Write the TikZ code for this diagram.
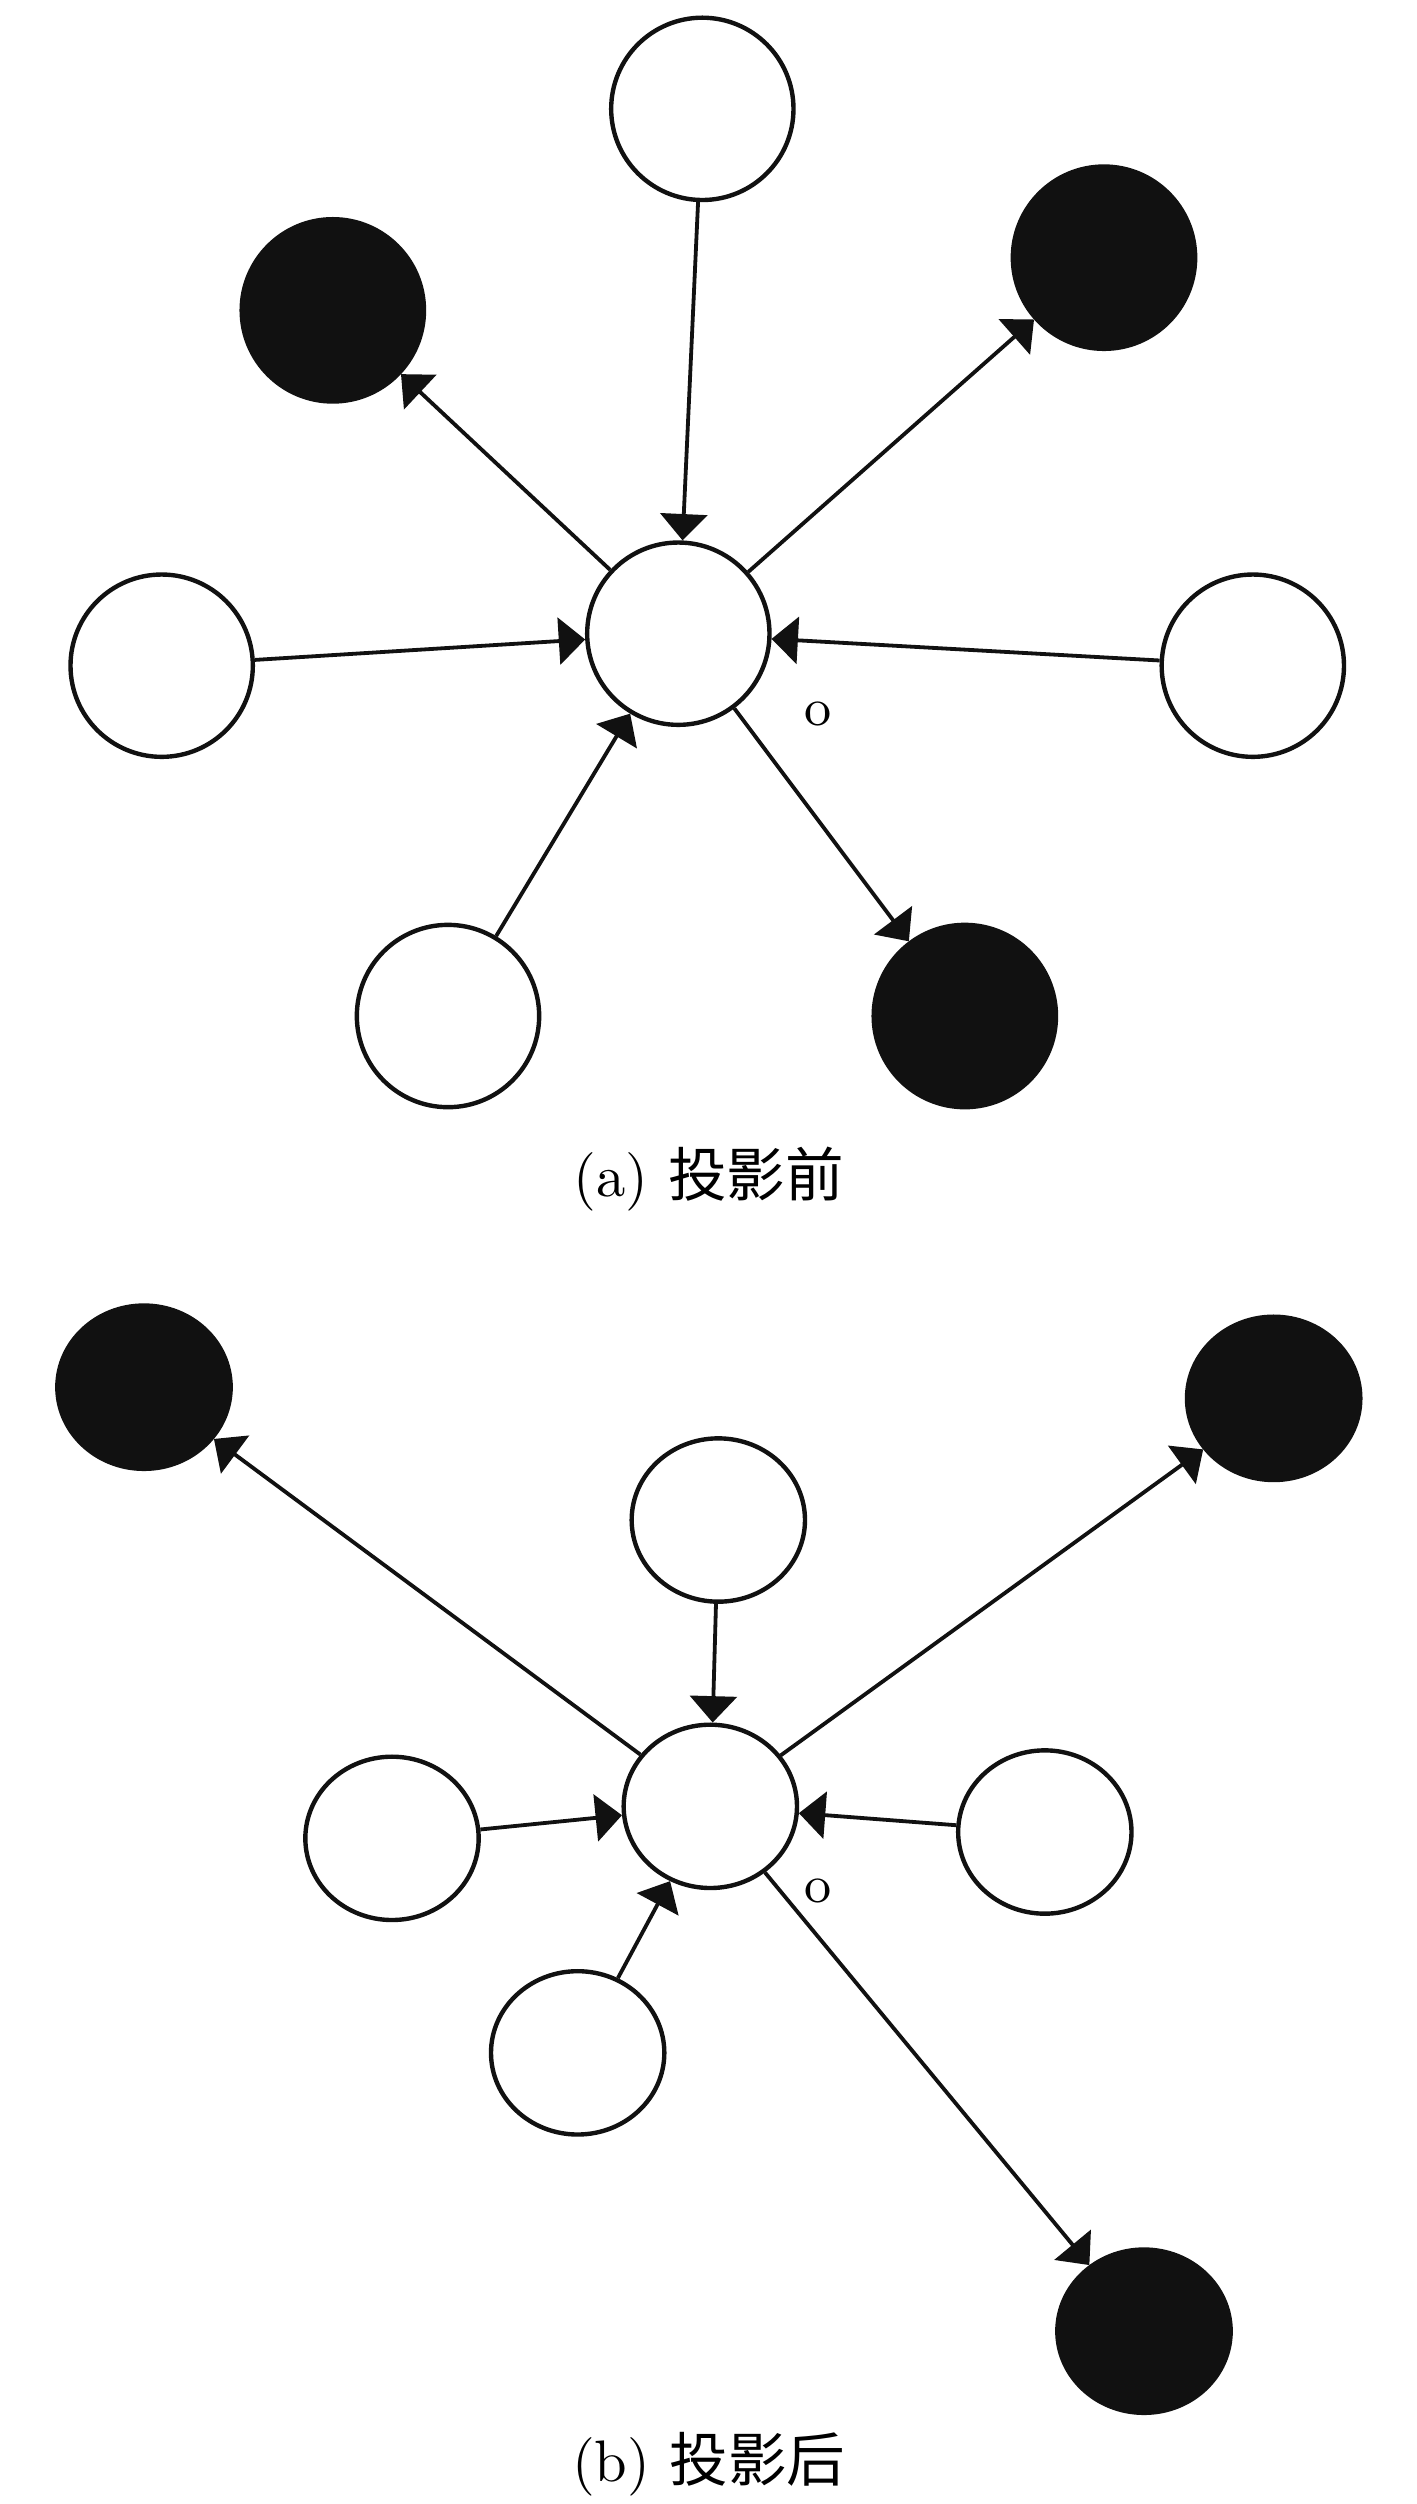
\documentclass[tikz,border=0pt]{standalone}
\usepackage{fontspec}
\newfontfamily\cjk{Noto Sans CJK SC}
\usetikzlibrary{arrows.meta,shapes.geometric}

\definecolor{ink}{HTML}{111111}

\tikzset{
  whitenode/.style={circle, draw=ink, line width=0.75pt, minimum size=1.094cm, inner sep=0pt},
  blacknode/.style={whitenode, fill=ink},
  whiteoval/.style={ellipse, draw=ink, line width=0.75pt, minimum width=1.04cm, minimum height=0.98cm, inner sep=0pt},
  blackoval/.style={whiteoval, fill=ink},
  link/.style={draw=ink, line width=0.65pt, -{Triangle[width=8pt,length=4.5pt]}}
}

\begin{document}
\begin{tikzpicture}
    \useasboundingbox (0, 0) rectangle (8.502, -15.024);

    % before projection
    \begin{scope}
      \node [whitenode] (a0) at (4.070, -3.802) {};
      \node [whitenode] (a1) at (4.214, -0.653) {};
      \node [blacknode] (a2) at (1.997, -1.862) {};
      \node [blacknode] (a3) at (6.624, -1.546) {};
      \node [whitenode] (a4) at (0.970, -3.994) {};
      \node [whitenode] (a5) at (7.517, -3.994) {};
      \node [whitenode] (a6) at (2.688, -6.096) {};
      \node [blacknode] (a7) at (5.789, -6.096) {};
      \node [font=\small] (ao) at (4.906, -4.282) {o};
      \draw [link] (a1) -- (a0);
      \draw [link] (a4) -- (a0);
      \draw [link] (a5) -- (a0);
      \draw [link] (a6) -- (a0);
      \draw [link] (a0) -- (a2);
      \draw [link] (a0) -- (a3);
      \draw [link] (a0) -- (a7);
      \node (acap) at (4.253, -7.075) {(a) {\cjk 投影前}};
    \end{scope}

    % after projection
    \begin{scope}
      \node [whiteoval] (b0) at (4.262, -10.838) {};
      \node [whiteoval] (b1) at (4.310, -9.120) {};
      \node [blackoval] (b2) at (0.864, -8.323) {};
      \node [blackoval] (b3) at (7.642, -8.390) {};
      \node [whiteoval] (b4) at (2.352, -11.030) {};
      \node [whiteoval] (b5) at (6.269, -10.992) {};
      \node [whiteoval] (b6) at (3.466, -12.317) {};
      \node [blackoval] (b7) at (6.864, -13.987) {};
      \node [font=\small] (bo) at (4.906, -11.347) {o};
      \draw [link] (b1) -- (b0);
      \draw [link] (b4) -- (b0);
      \draw [link] (b5) -- (b0);
      \draw [link] (b6) -- (b0);
      \draw [link] (b0) -- (b2);
      \draw [link] (b0) -- (b3);
      \draw [link] (b0) -- (b7);
      \node (bcap) at (4.253, -14.784) {(b) {\cjk 投影后}};
    \end{scope}
\end{tikzpicture}
\end{document}
